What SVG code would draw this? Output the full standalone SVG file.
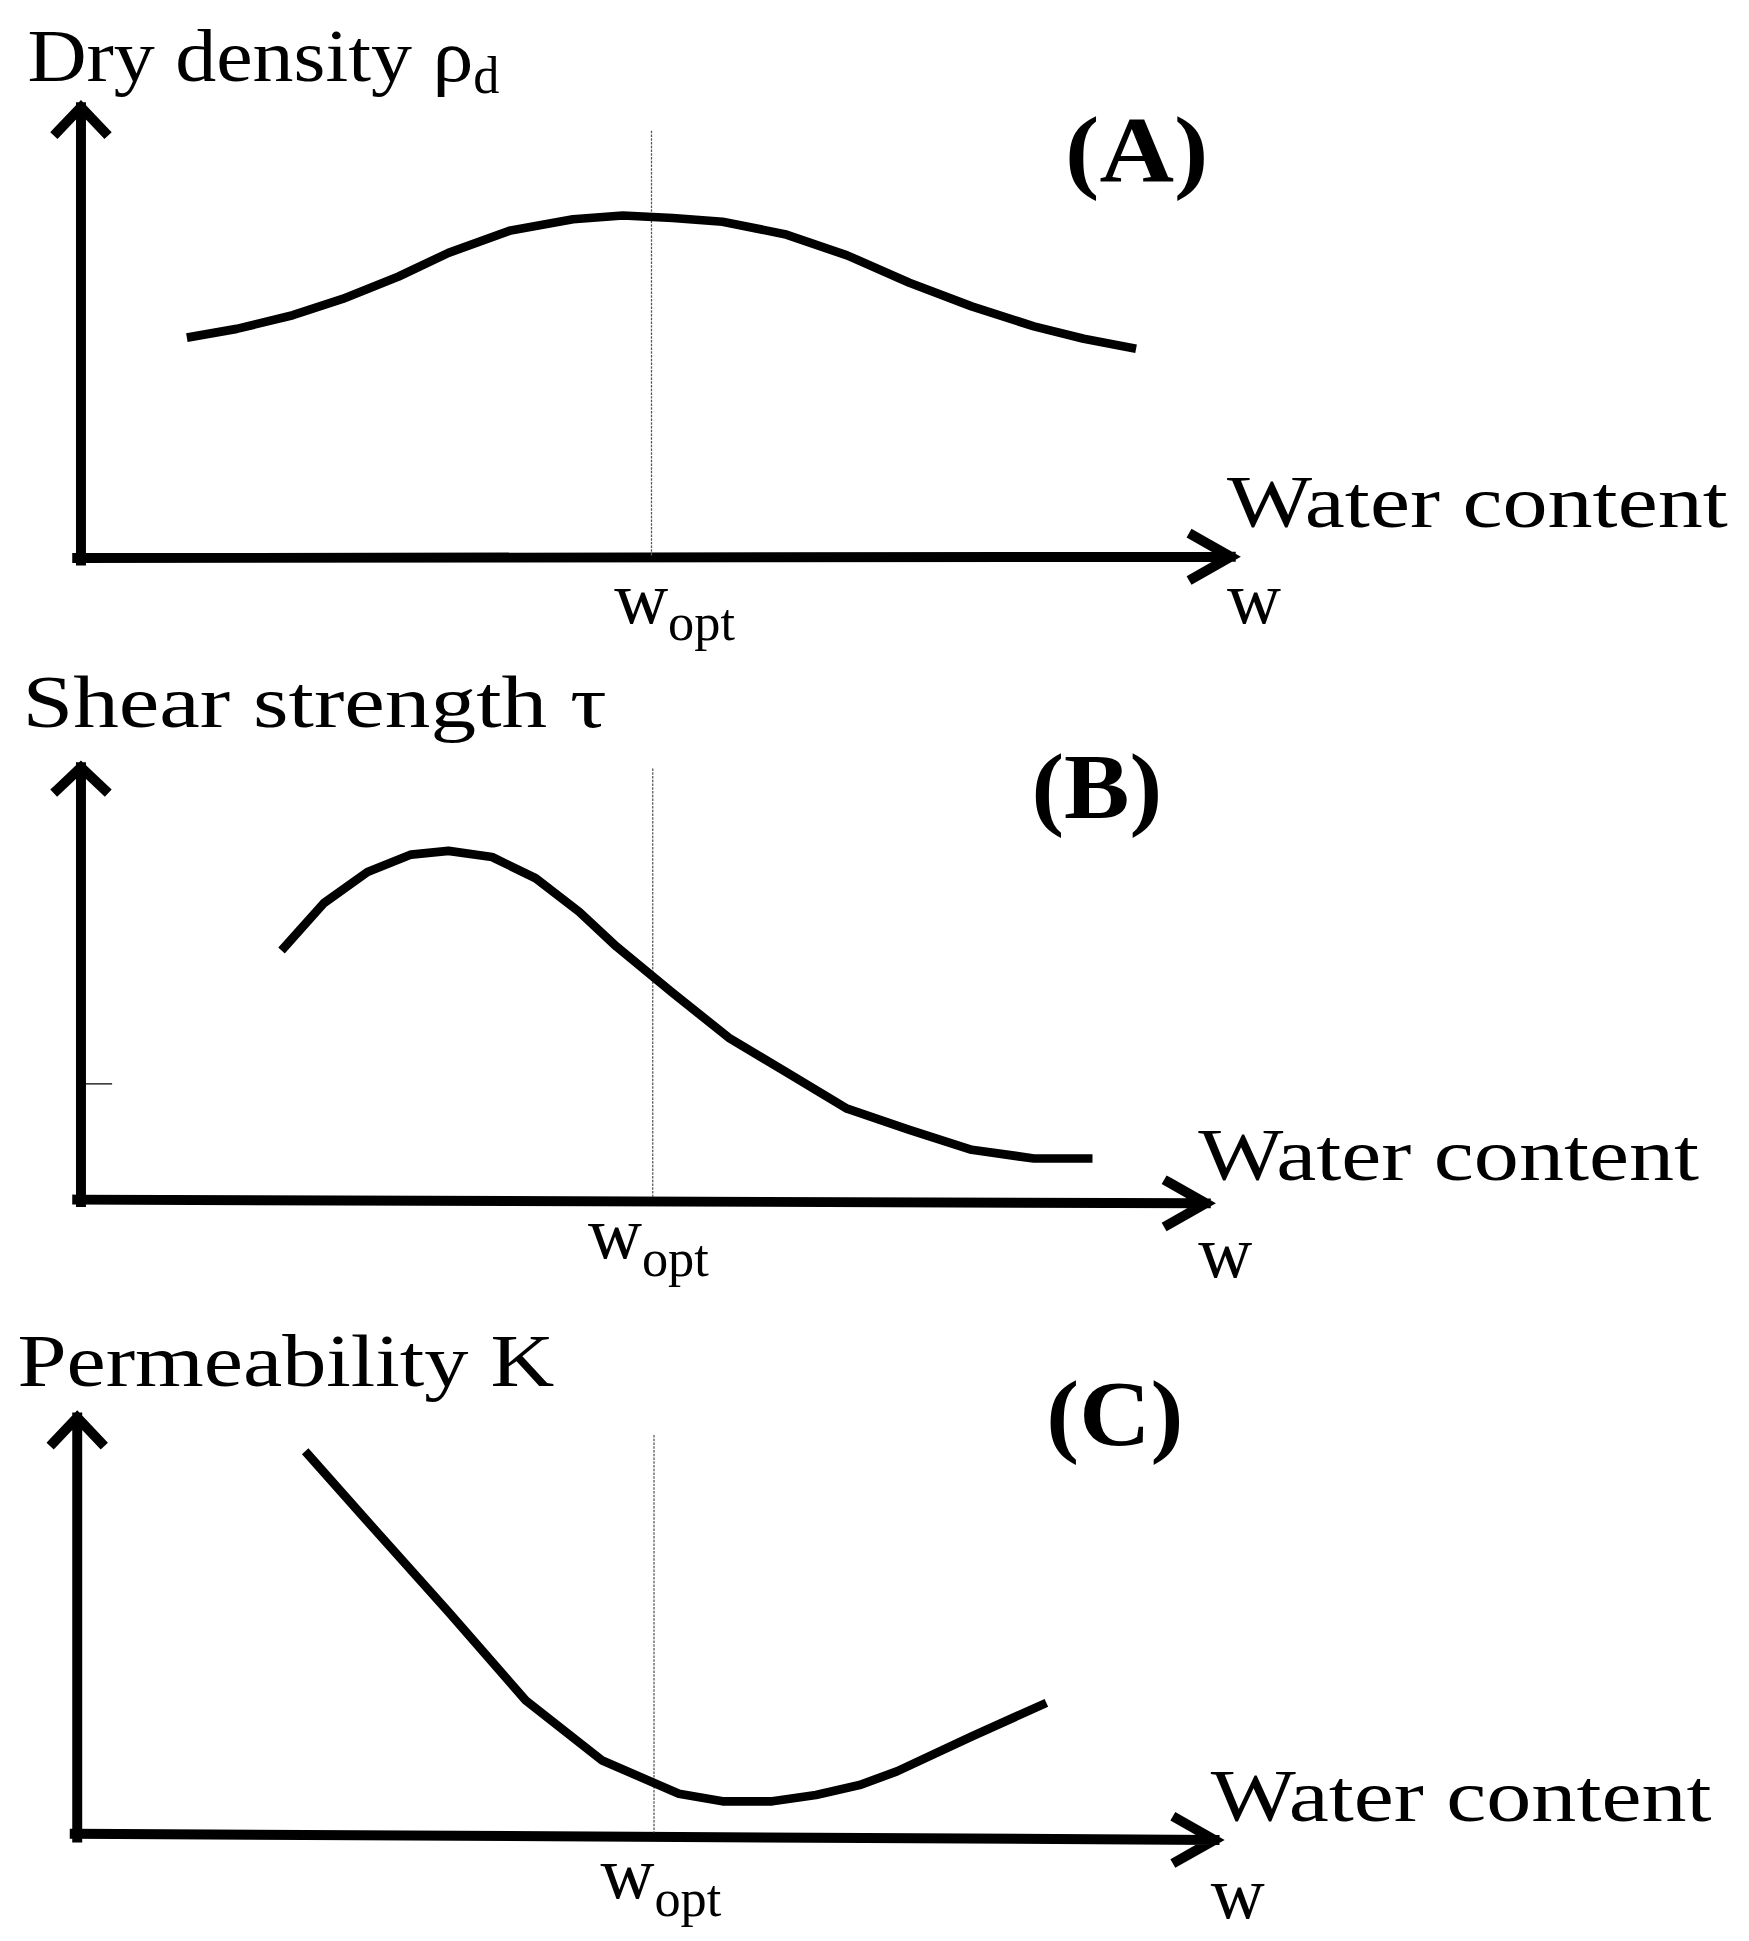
<svg xmlns="http://www.w3.org/2000/svg" width="1749" height="1941" viewBox="0 0 1749 1941">
<style>
.ax{fill:none;stroke:#000;stroke-width:8;stroke-linecap:square;stroke-linejoin:miter}
.cv{fill:none;stroke:#000;stroke-width:7;stroke-linejoin:round}
.g{stroke:#555;stroke-width:1;stroke-dasharray:2 1}
text{font-family:"Liberation Serif","DejaVu Serif",serif;fill:#000}
.t{font-size:60px}
.p{font-size:74px;font-weight:bold}
.s{font-size:42px}
</style>
<rect width="1749" height="1941" fill="#fff"/>
<g transform="scale(1.2457)">
<g id="connectors">
<path class="ax" d="M65,450 V86 M46,106 L65,86 L84,106"/>
<path class="ax" d="M62,448 L988,447 M958,430 L988,447 L958,464"/>
<line class="g" x1="523" y1="105" x2="523" y2="446"/>
<path class="ax" d="M65,965 V616 M46,634 L65,616 L84,634"/>
<path class="ax" d="M62,963 L968,966 M938,949 L968,966 L938,983"/>
<line class="g" x1="524" y1="617" x2="524" y2="962"/>
<line x1="65" y1="870" x2="90" y2="870" stroke="#000" stroke-width="1"/>
<path class="ax" d="M62,1475 V1138 M43,1158 L62,1138 L81,1158"/>
<path class="ax" d="M60,1472 L975,1477 M945,1460 L975,1477 L945,1494"/>
<line class="g" x1="525" y1="1152" x2="525" y2="1471"/>
</g>
<g id="nodeA">
<polyline class="cv" points="150,271 190,264 235,253 275,240 320,222 360,203 410,185 460,176 500,173 540,175 580,178 630,188 680,205 730,227 780,246 830,262 870,272 912,280"/>
<text class="t" x="22" y="65"><tspan textLength="358" lengthAdjust="spacingAndGlyphs">Dry density ρ</tspan><tspan class="s" dy="10">d</tspan></text>
<text class="p" x="855" y="145" textLength="115" lengthAdjust="spacingAndGlyphs">(A)</text>
<text class="t" x="985" y="423" textLength="402" lengthAdjust="spacingAndGlyphs">Water content</text>
<text class="t" x="985" y="500">w</text>
<text class="t" x="493" y="500">w<tspan class="s" dy="14">opt</tspan></text>
</g>
<g id="nodeB">
<polyline class="cv" points="226,763 260,725 295,700 330,686 360,683 395,688 430,705 465,732 495,760 540,797 585,833 630,860 680,890 730,907 780,923 830,930 877,930"/>
<text class="t" x="18" y="584" textLength="469" lengthAdjust="spacingAndGlyphs">Shear strength τ</text>
<text class="p" x="828" y="657" textLength="105" lengthAdjust="spacingAndGlyphs">(B)</text>
<text class="t" x="962" y="947" textLength="402" lengthAdjust="spacingAndGlyphs">Water content</text>
<text class="t" x="962" y="1025">w</text>
<text class="t" x="472" y="1010">w<tspan class="s" dy="14">opt</tspan></text>
</g>
<g id="nodeC">
<polyline class="cv" points="245,1165 300,1227 360,1294 422,1365 483,1413 545,1440 580,1446 620,1446 655,1441 690,1433 720,1422 780,1394 840,1367"/>
<text class="t" x="14" y="1113" textLength="431" lengthAdjust="spacingAndGlyphs">Permeability K</text>
<text class="p" x="840" y="1160" textLength="110" lengthAdjust="spacingAndGlyphs">(C)</text>
<text class="t" x="972" y="1462" textLength="402" lengthAdjust="spacingAndGlyphs">Water content</text>
<text class="t" x="972" y="1540">w</text>
<text class="t" x="482" y="1524">w<tspan class="s" dy="14">opt</tspan></text>
</g>
</g>
</svg>
